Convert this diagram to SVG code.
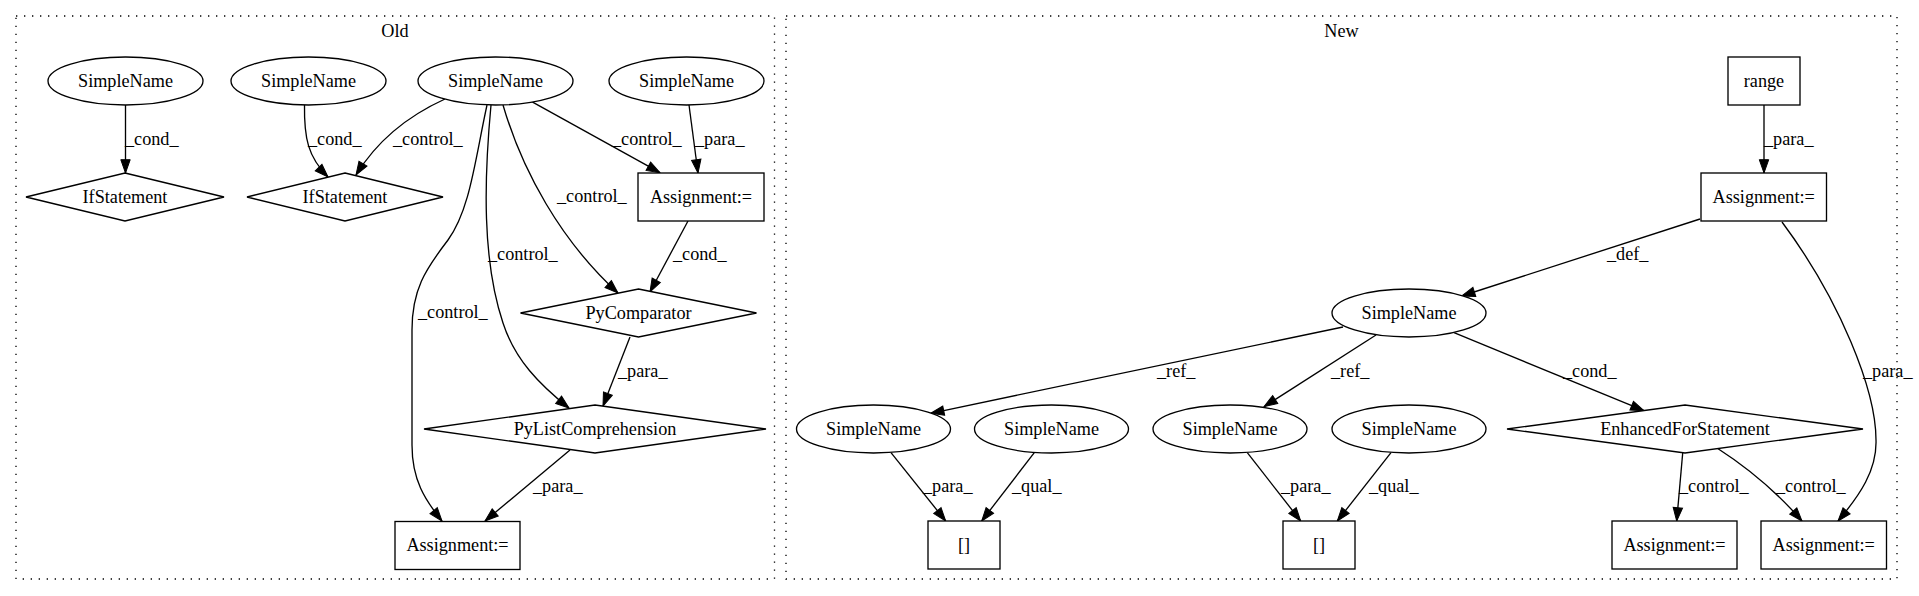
<svg xmlns="http://www.w3.org/2000/svg" width="1919" height="596" viewBox="0 0 1919 596">
<style>
  .bg { fill: #ffffff; }
  .cluster { fill: none; stroke: #000; stroke-width: 1.33; stroke-dasharray: 1.33 6.67; }
  .node { fill: #ffffff; stroke: #000; stroke-width: 1.33; }
  .edge { fill: none; stroke: #000; stroke-width: 1.33; marker-end: url(#arrow); }
  text { font-family: "Liberation Serif", "Times New Roman", serif; font-size: 18.2px; fill: #000; }
  .c { text-anchor: middle; }
</style>
<defs>
  <marker id="arrow" markerUnits="userSpaceOnUse" markerWidth="16" markerHeight="12" viewBox="0 -6 14 12" refX="13.3" refY="0" orient="auto">
    <path d="M0,-4.7 L13.3,0 L0,4.7 Z" fill="#000" stroke="#000" stroke-width="1"/>
  </marker>
</defs>
<rect class="bg" x="0" y="0" width="1919" height="596"/>

<g id="cluster_old">
  <rect class="cluster" x="16" y="16" width="758.5" height="563"/>
  <text class="c" x="395" y="37">Old</text>
</g>
<g id="cluster_new">
  <rect class="cluster" x="786" y="16" width="1111" height="563"/>
  <text class="c" x="1341.5" y="37">New</text>
</g>

<g id="connectors">
  <path class="edge" d="M125.5,105 L125.5,173"/>
  <path class="edge" d="M304.5,105 C304,138 308,157 328,177"/>
  <path class="edge" d="M445,99 C412,114 380,136 356,175"/>
  <path class="edge" d="M531.7,101.7 L660,172.7"/>
  <path class="edge" d="M689,105 L698,173"/>
  <path class="edge" d="M503,105 C522,170 560,240 618,293"/>
  <path class="edge" d="M491,105 C484,180 482,260 503,323 C515,360 540,385 569,408"/>
  <path class="edge" d="M487,105 C475,160 470,210 448,240 C425,270 412,290 412,330 C412,380 412,420 412,445 C412,480 425,500 442,521"/>
  <path class="edge" d="M688,221 L650,292"/>
  <path class="edge" d="M630,337 L603,406"/>
  <path class="edge" d="M570,450 L485,521"/>

  <path class="edge" d="M1764,105 L1764,173"/>
  <path class="edge" d="M1700,219 L1461.7,296"/>
  <path class="edge" d="M1782,222 C1840,300 1876,390 1876,440 C1877,470 1860,495 1838,521"/>
  <path class="edge" d="M1343,327 L930.7,413.3"/>
  <path class="edge" d="M1376,335 L1264,406.7"/>
  <path class="edge" d="M1454,332.7 L1644,410.7"/>
  <path class="edge" d="M891,452.7 L945.7,521"/>
  <path class="edge" d="M1034.3,452.7 L981.7,521"/>
  <path class="edge" d="M1247.3,452.7 L1300.7,521"/>
  <path class="edge" d="M1391,452.7 L1337.3,521"/>
  <path class="edge" d="M1682.7,453 L1676.7,521"/>
  <path class="edge" d="M1717,448 C1745,466 1775,490 1802,521"/>

  <text x="125" y="144.5">_cond_</text>
  <text x="308" y="144.5">_cond_</text>
  <text x="393" y="144.5">_control_</text>
  <text x="612" y="144.5">_control_</text>
  <text x="695" y="144.5">_para_</text>
  <text x="557" y="202">_control_</text>
  <text x="488" y="260">_control_</text>
  <text x="673" y="260">_cond_</text>
  <text x="418" y="318">_control_</text>
  <text x="618" y="377">_para_</text>
  <text x="533" y="492">_para_</text>

  <text x="1764" y="144.5">_para_</text>
  <text x="1607" y="260">_def_</text>
  <text x="1863" y="377">_para_</text>
  <text x="1157" y="377">_ref_</text>
  <text x="1331" y="377">_ref_</text>
  <text x="1563" y="377">_cond_</text>
  <text x="923" y="492">_para_</text>
  <text x="1012" y="492">_qual_</text>
  <text x="1281" y="492">_para_</text>
  <text x="1369" y="492">_qual_</text>
  <text x="1679" y="492">_control_</text>
  <text x="1776" y="492">_control_</text>
</g>

<g id="old_simplename_1"><ellipse class="node" cx="125.5" cy="81" rx="77.5" ry="24"/><text class="c" x="125.5" y="86.5">SimpleName</text></g>
<g id="old_simplename_2"><ellipse class="node" cx="308.5" cy="81" rx="77.5" ry="24"/><text class="c" x="308.5" y="86.5">SimpleName</text></g>
<g id="old_simplename_3"><ellipse class="node" cx="495.5" cy="81" rx="77.5" ry="24"/><text class="c" x="495.5" y="86.5">SimpleName</text></g>
<g id="old_simplename_4"><ellipse class="node" cx="686.5" cy="81" rx="77.5" ry="24"/><text class="c" x="686.5" y="86.5">SimpleName</text></g>
<g id="old_if_1"><polygon class="node" points="125,173 224,197 125,221 26,197"/><text class="c" x="125" y="202.5">IfStatement</text></g>
<g id="old_if_2"><polygon class="node" points="345,173 443,197 345,221 247,197"/><text class="c" x="345" y="202.5">IfStatement</text></g>
<g id="old_assign_1"><rect class="node" x="638" y="173" width="126" height="48"/><text class="c" x="701" y="202.5">Assignment:=</text></g>
<g id="old_pycomparator"><polygon class="node" points="638.5,289 756.5,313 638.5,337 520.5,313"/><text class="c" x="638.5" y="318.5">PyComparator</text></g>
<g id="old_pylistcomp"><polygon class="node" points="595,405 766,429 595,453 424,429"/><text class="c" x="595" y="434.5">PyListComprehension</text></g>
<g id="old_assign_2"><rect class="node" x="395" y="521.5" width="125" height="48"/><text class="c" x="457.5" y="551">Assignment:=</text></g>

<g id="new_range"><rect class="node" x="1728" y="57" width="72" height="48"/><text class="c" x="1764" y="86.5">range</text></g>
<g id="new_assign_1"><rect class="node" x="1701" y="173" width="125.5" height="48"/><text class="c" x="1763.7" y="202.5">Assignment:=</text></g>
<g id="new_simplename_1"><ellipse class="node" cx="1409" cy="313" rx="77" ry="24"/><text class="c" x="1409" y="318.5">SimpleName</text></g>
<g id="new_simplename_2"><ellipse class="node" cx="873.5" cy="429" rx="77" ry="24"/><text class="c" x="873.5" y="434.5">SimpleName</text></g>
<g id="new_simplename_3"><ellipse class="node" cx="1051.5" cy="429" rx="77" ry="24"/><text class="c" x="1051.5" y="434.5">SimpleName</text></g>
<g id="new_simplename_4"><ellipse class="node" cx="1230" cy="429" rx="77" ry="24"/><text class="c" x="1230" y="434.5">SimpleName</text></g>
<g id="new_simplename_5"><ellipse class="node" cx="1409" cy="429" rx="77" ry="24"/><text class="c" x="1409" y="434.5">SimpleName</text></g>
<g id="new_enhancedfor"><polygon class="node" points="1685,405 1863,429 1685,453 1507,429"/><text class="c" x="1685" y="434.5">EnhancedForStatement</text></g>
<g id="new_index_1"><rect class="node" x="928" y="521" width="72" height="48"/><text class="c" x="964" y="550.5">[]</text></g>
<g id="new_index_2"><rect class="node" x="1283" y="521" width="72" height="48"/><text class="c" x="1319" y="550.5">[]</text></g>
<g id="new_assign_2"><rect class="node" x="1612" y="521" width="125" height="48"/><text class="c" x="1674.5" y="550.5">Assignment:=</text></g>
<g id="new_assign_3"><rect class="node" x="1761" y="521" width="125.5" height="48"/><text class="c" x="1823.7" y="550.5">Assignment:=</text></g>
</svg>
